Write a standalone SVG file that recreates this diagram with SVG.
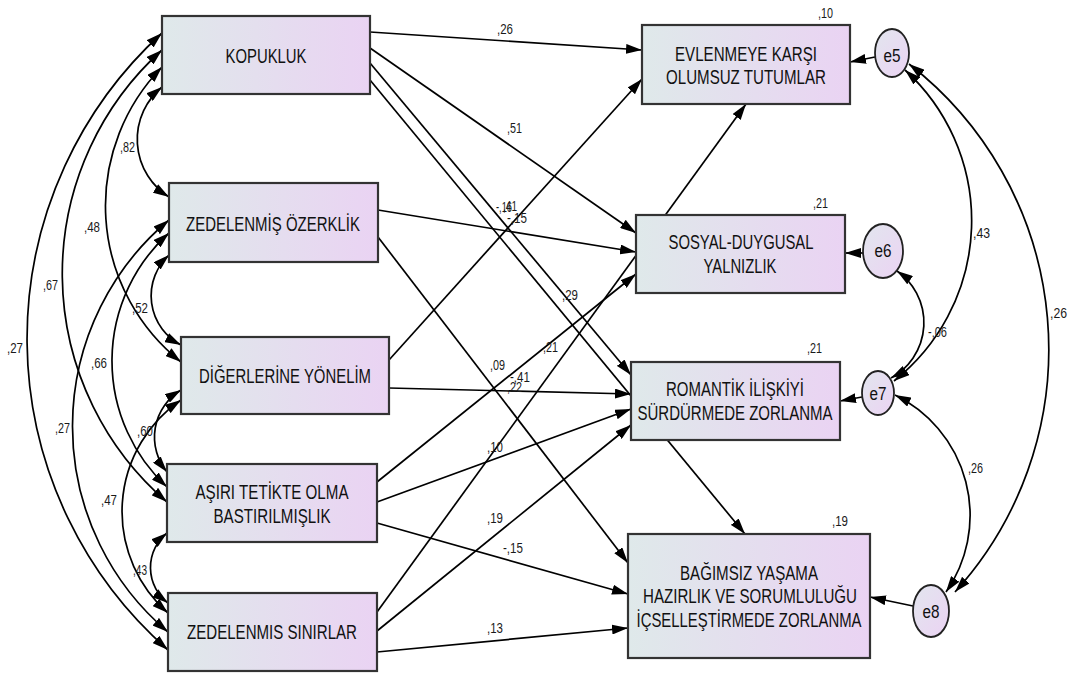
<svg xmlns="http://www.w3.org/2000/svg" width="1073" height="678" viewBox="0 0 1073 678">
<defs>
<linearGradient id="g" x1="0" y1="0" x2="1" y2="0">
<stop offset="0" stop-color="#dfe9ea"/>
<stop offset="1" stop-color="#ead3f3"/>
</linearGradient>
<linearGradient id="ge" x1="0" y1="0" x2="1" y2="1">
<stop offset="0" stop-color="#e2e6ee"/>
<stop offset="1" stop-color="#ebd3f3"/>
</linearGradient>
<marker id="ah" viewBox="0 0 16 10" refX="16" refY="5" markerWidth="16" markerHeight="10" markerUnits="userSpaceOnUse" orient="auto-start-reverse">
<path d="M0,0 L16,5 L0,10 z" fill="#000"/>
</marker>
</defs>
<style>
.box{fill:url(#g);stroke:#333;stroke-width:2.2}
.err{fill:url(#ge);stroke:#222;stroke-width:1.8}
.t{font-family:"Liberation Sans",Arial,sans-serif;font-size:20px;fill:#111;text-anchor:middle}
.et{font-family:"Liberation Sans",Arial,sans-serif;font-size:18px;fill:#111;text-anchor:middle}
.n{font-family:"Liberation Sans",Arial,sans-serif;font-size:15px;fill:#1a1a1a}
.c path,.c line{stroke:#000;stroke-width:1.7;fill:none}
.c .s{marker-end:url(#ah)}
.c .d{marker-start:url(#ah);marker-end:url(#ah)}
</style>
<rect width="1073" height="678" fill="#fff"/>

<g class="c" id="connectors">
<path class="d" d="M162,87 A68,68 0 0 0 169,197"/>
<path class="d" d="M162,67 A199,199 0 0 0 181,362"/>
<path class="d" d="M162,50 A301,301 0 0 0 167,502"/>
<path class="d" d="M162,33 A414,414 0 0 0 168,650"/>
<path class="d" d="M169,255 A55.5,55.5 0 0 0 181,345"/>
<path class="d" d="M169,233 A172,172 0 0 0 167,487"/>
<path class="d" d="M169,220 A269,269 0 0 0 168,632"/>
<path class="d" d="M181,390 A55,55 0 0 0 167,472"/>
<path class="d" d="M181,400 A135,135 0 0 0 168,613"/>
<path class="d" d="M167,533 A44.5,44.5 0 0 0 168,603"/>
<line class="s" x1="370" y1="32" x2="642" y2="50"/>
<line class="s" x1="370" y1="48" x2="636" y2="233"/>
<line class="s" x1="370" y1="63" x2="631" y2="375"/>
<line class="s" x1="370" y1="80" x2="745" y2="534"/>
<line class="s" x1="378" y1="210" x2="636" y2="252"/>
<line class="s" x1="378" y1="237" x2="628" y2="563"/>
<line class="s" x1="389" y1="360" x2="642" y2="79"/>
<line class="s" x1="389" y1="388" x2="631" y2="394"/>
<line class="s" x1="377" y1="482" x2="636" y2="274"/>
<line class="s" x1="377" y1="502" x2="631" y2="409"/>
<line class="s" x1="377" y1="523" x2="628" y2="594"/>
<line class="s" x1="377" y1="612" x2="746" y2="104"/>
<line class="s" x1="377" y1="631" x2="631" y2="425"/>
<line class="s" x1="377" y1="652" x2="628" y2="628"/>
<line class="s" x1="875" y1="57" x2="850" y2="62"/>
<line class="s" x1="863" y1="253" x2="845" y2="253"/>
<line class="s" x1="862" y1="397" x2="840" y2="401"/>
<line class="s" x1="913" y1="606" x2="870" y2="597"/>
<path class="d" d="M905,70 A204,204 0 0 1 894,381"/>
<path class="d" d="M909,64 A361,361 0 0 1 955,592"/>
<path class="d" d="M895,395 A134,134 0 0 1 946,592"/>
<path class="d" d="M897,271 A63,63 0 0 1 891,378"/>
</g>

<g id="KOPUKLUK"><rect class="box" x="162" y="16" width="208" height="78"/><text class="t" x="266" y="63" textLength="81" lengthAdjust="spacingAndGlyphs">KOPUKLUK</text></g>
<g id="ZEDELENMIS_OZERKLIK"><rect class="box" x="169" y="183" width="209" height="79"/><text class="t" x="273" y="231" textLength="174" lengthAdjust="spacingAndGlyphs">ZEDELENMİŞ ÖZERKLİK</text></g>
<g id="DIGERLERINE_YONELIM"><rect class="box" x="181" y="337" width="208" height="77"/><text class="t" x="285" y="383" textLength="172" lengthAdjust="spacingAndGlyphs">DİĞERLERİNE YÖNELİM</text></g>
<g id="ASIRI_TETIKTE"><rect class="box" x="167" y="464" width="210" height="78"/><text class="t" x="272" y="499" textLength="153" lengthAdjust="spacingAndGlyphs">AŞIRI TETİKTE OLMA</text><text class="t" x="272" y="523" textLength="117" lengthAdjust="spacingAndGlyphs">BASTIRILMIŞLIK</text></g>
<g id="ZEDELENMIS_SINIRLAR"><rect class="box" x="168" y="593" width="209" height="78"/><text class="t" x="272" y="639" textLength="170" lengthAdjust="spacingAndGlyphs">ZEDELENMIS SINIRLAR</text></g>

<g id="EVLENMEYE"><rect class="box" x="642" y="25" width="208" height="79"/><text class="t" x="746" y="61" textLength="142" lengthAdjust="spacingAndGlyphs">EVLENMEYE KARŞI</text><text class="t" x="746" y="84" textLength="160" lengthAdjust="spacingAndGlyphs">OLUMSUZ TUTUMLAR</text></g>
<g id="SOSYAL"><rect class="box" x="636" y="215" width="209" height="78"/><text class="t" x="741" y="249" textLength="145" lengthAdjust="spacingAndGlyphs">SOSYAL-DUYGUSAL</text><text class="t" x="740" y="273" textLength="73" lengthAdjust="spacingAndGlyphs">YALNIZLIK</text></g>
<g id="ROMANTIK"><rect class="box" x="631" y="362" width="209" height="78"/><text class="t" x="735" y="396" textLength="138" lengthAdjust="spacingAndGlyphs">ROMANTİK İLİŞKİYİ</text><text class="t" x="735" y="420" textLength="195" lengthAdjust="spacingAndGlyphs">SÜRDÜRMEDE ZORLANMA</text></g>
<g id="BAGIMSIZ"><rect class="box" x="628" y="534" width="242" height="124"/><text class="t" x="749" y="580" textLength="138" lengthAdjust="spacingAndGlyphs">BAĞIMSIZ YAŞAMA</text><text class="t" x="750" y="603" textLength="214" lengthAdjust="spacingAndGlyphs">HAZIRLIK VE SORUMLULUĞU</text><text class="t" x="749" y="627" textLength="225" lengthAdjust="spacingAndGlyphs">İÇSELLEŞTİRMEDE ZORLANMA</text></g>

<g id="e5"><ellipse class="err" cx="892" cy="53" rx="17" ry="24"/><text class="et" x="892" y="62" textLength="17" lengthAdjust="spacingAndGlyphs">e5</text></g>
<g id="e6"><ellipse class="err" cx="883" cy="251" rx="20" ry="27"/><text class="et" x="883" y="257" textLength="17" lengthAdjust="spacingAndGlyphs">e6</text></g>
<g id="e7"><ellipse class="err" cx="878" cy="393" rx="16" ry="22"/><text class="et" x="878" y="400" textLength="17" lengthAdjust="spacingAndGlyphs">e7</text></g>
<g id="e8"><ellipse class="err" cx="931" cy="611" rx="18" ry="26"/><text class="et" x="931" y="618" textLength="17" lengthAdjust="spacingAndGlyphs">e8</text></g>

<g id="labels">
<text class="n" x="120" y="152" textLength="15" lengthAdjust="spacingAndGlyphs">,82</text>
<text class="n" x="84" y="232" textLength="16" lengthAdjust="spacingAndGlyphs">,48</text>
<text class="n" x="43" y="290" textLength="15" lengthAdjust="spacingAndGlyphs">,67</text>
<text class="n" x="7" y="353" textLength="16" lengthAdjust="spacingAndGlyphs">,27</text>
<text class="n" x="132" y="313" textLength="16" lengthAdjust="spacingAndGlyphs">,52</text>
<text class="n" x="91" y="368" textLength="16" lengthAdjust="spacingAndGlyphs">,66</text>
<text class="n" x="55" y="433" textLength="15" lengthAdjust="spacingAndGlyphs">,27</text>
<text class="n" x="137" y="436" textLength="16" lengthAdjust="spacingAndGlyphs">,60</text>
<text class="n" x="101" y="505" textLength="16" lengthAdjust="spacingAndGlyphs">,47</text>
<text class="n" x="133" y="575" textLength="14" lengthAdjust="spacingAndGlyphs">,43</text>

<text class="n" x="497" y="34" textLength="16" lengthAdjust="spacingAndGlyphs">,26</text>
<text class="n" x="507" y="133" textLength="15" lengthAdjust="spacingAndGlyphs">,51</text>
<text class="n" x="496" y="212" textLength="16" lengthAdjust="spacingAndGlyphs">-,16</text>
<text class="n" x="503" y="211" textLength="14" lengthAdjust="spacingAndGlyphs">,41</text>
<text class="n" x="507" y="223" textLength="20" lengthAdjust="spacingAndGlyphs">-,15</text>
<text class="n" x="562" y="300" textLength="16" lengthAdjust="spacingAndGlyphs">,29</text>
<text class="n" x="543" y="352" textLength="15" lengthAdjust="spacingAndGlyphs">,21</text>
<text class="n" x="490" y="370" textLength="15" lengthAdjust="spacingAndGlyphs">,09</text>
<text class="n" x="510" y="382" textLength="20" lengthAdjust="spacingAndGlyphs">-,41</text>
<text class="n" x="507" y="392" textLength="15" lengthAdjust="spacingAndGlyphs">,22</text>
<text class="n" x="487" y="452" textLength="16" lengthAdjust="spacingAndGlyphs">,10</text>
<text class="n" x="487" y="523" textLength="16" lengthAdjust="spacingAndGlyphs">,19</text>
<text class="n" x="503" y="553" textLength="20" lengthAdjust="spacingAndGlyphs">-,15</text>
<text class="n" x="487" y="633" textLength="16" lengthAdjust="spacingAndGlyphs">,13</text>

<text class="n" x="818" y="18" textLength="15" lengthAdjust="spacingAndGlyphs">,10</text>
<text class="n" x="813" y="208" textLength="15" lengthAdjust="spacingAndGlyphs">,21</text>
<text class="n" x="807" y="353" textLength="15" lengthAdjust="spacingAndGlyphs">,21</text>
<text class="n" x="832" y="526" textLength="16" lengthAdjust="spacingAndGlyphs">,19</text>
<text class="n" x="973" y="238" textLength="17" lengthAdjust="spacingAndGlyphs">,43</text>
<text class="n" x="1050" y="318" textLength="17" lengthAdjust="spacingAndGlyphs">,26</text>
<text class="n" x="928" y="337" textLength="19" lengthAdjust="spacingAndGlyphs">-,06</text>
<text class="n" x="968" y="473" textLength="15" lengthAdjust="spacingAndGlyphs">,26</text>
</g>
</svg>
